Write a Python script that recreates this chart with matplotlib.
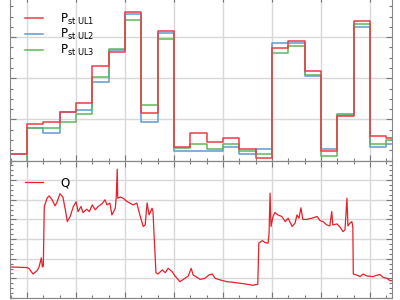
import matplotlib.pyplot as plt
from matplotlib.ticker import MultipleLocator, AutoMinorLocator, NullFormatter
import numpy as np

# step boundaries (one interval = 1/3 of a major grid unit)
step_edges = [k / 3 for k in range(-1, 23)] + [7.45]

p_ul1 = [0.17, 0.88, 0.93, 1.17, 1.39, 2.29, 2.63, 3.61, 1.15, 3.15, 0.32, 0.68,
         0.46, 0.54, 0.27, 0.07, 2.73, 2.90, 2.17, 0.22, 1.07, 3.39, 0.59, 0.54]
p_ul2 = [0.15, 0.78, 0.68, 1.17, 1.24, 1.90, 2.68, 3.56, 0.93, 3.10, 0.22, 0.22,
         0.22, 0.34, 0.17, 0.27, 2.85, 2.85, 2.05, 0.29, 1.12, 3.24, 0.34, 0.41]
p_ul3 = [-0.05, 0.78, 0.78, 0.93, 1.12, 2.02, 2.71, 3.41, 1.34, 2.95, 0.30, 0.41,
         0.29, 0.41, 0.24, 0.17, 2.61, 2.78, 2.07, 0.12, 1.10, 3.32, 0.39, 0.49]

q_t = [-0.35, 0.00, 0.04, 0.12, 0.20, 0.24, 0.29, 0.31, 0.33, 0.35, 0.41, 0.45,
       0.51, 0.57, 0.61, 0.67, 0.73, 0.78, 0.82, 0.88, 0.94, 1.00, 1.04, 1.10,
       1.14, 1.22, 1.27, 1.33, 1.39, 1.45, 1.53, 1.59, 1.63, 1.69, 1.73, 1.80,
       1.82, 1.84, 1.85, 1.90, 1.96, 2.04, 2.10, 2.16, 2.24, 2.31, 2.37, 2.41,
       2.45, 2.49, 2.55, 2.57, 2.59, 2.63, 2.67, 2.76, 2.82, 2.88, 2.96, 3.02,
       3.12, 3.22, 3.29, 3.35, 3.39, 3.47, 3.53, 3.63, 3.71, 3.78, 3.84, 3.94,
       4.08, 4.20, 4.35, 4.49, 4.61, 4.71, 4.73, 4.80, 4.86, 4.92, 4.94, 4.96,
       4.98, 5.02, 5.06, 5.12, 5.20, 5.27, 5.33, 5.41, 5.47, 5.51, 5.55, 5.59,
       5.63, 5.71, 5.84, 5.92, 5.98, 6.04, 6.12, 6.18, 6.22, 6.24, 6.33, 6.39,
       6.45, 6.49, 6.53, 6.55, 6.59, 6.63, 6.65, 6.66, 6.73, 6.80, 6.86, 6.94,
       7.06, 7.20, 7.27, 7.35, 7.41, 7.45]
q_val = [1.58, 1.55, 1.50, 1.22, 1.39, 1.55, 2.04, 1.58, 1.62, 4.66, 5.10, 5.20,
         5.00, 4.69, 4.88, 5.31, 5.14, 4.49, 3.89, 4.15, 4.64, 4.90, 4.40, 4.66,
         4.35, 4.52, 4.40, 4.74, 4.49, 4.66, 4.80, 5.00, 4.74, 4.83, 4.23, 4.57,
         5.16, 6.56, 5.08, 5.14, 5.08, 4.91, 4.83, 4.74, 4.83, 4.15, 3.64, 3.72,
         4.84, 4.23, 4.57, 4.40, 3.30, 1.29, 1.22, 1.43, 1.29, 1.51, 1.34, 1.12,
         0.83, 1.00, 1.12, 1.51, 1.17, 1.05, 0.95, 1.00, 1.17, 1.22, 1.00, 0.92,
         0.83, 0.80, 0.75, 0.70, 0.65, 0.70, 2.79, 2.92, 2.82, 2.79, 3.30, 5.34,
         3.64, 4.15, 4.35, 4.23, 4.15, 3.89, 4.06, 3.64, 3.81, 4.23, 4.06, 4.59,
         4.00, 4.00, 4.08, 4.15, 3.94, 3.89, 3.72, 3.67, 4.40, 3.72, 3.77, 3.60,
         3.38, 3.47, 5.08, 3.67, 3.81, 3.89, 3.64, 1.22, 1.17, 1.09, 1.22, 1.12,
         1.09, 1.20, 1.05, 1.00, 0.88, 0.88]

RED = "#ee3b45"
BLUE = "#5b9bd5"
GREEN = "#5cb85c"


def style_axis(ax, ymax):
    ax.set_xlim(-0.35, 7.45)
    ax.set_ylim(0, ymax)
    ax.xaxis.set_major_locator(MultipleLocator(1))
    ax.xaxis.set_minor_locator(AutoMinorLocator(3))
    ax.yaxis.set_major_locator(MultipleLocator(1))
    ax.yaxis.set_minor_locator(AutoMinorLocator(4))
    ax.xaxis.set_major_formatter(NullFormatter())
    ax.yaxis.set_major_formatter(NullFormatter())
    ax.tick_params(which="both", direction="in", top=True, right=True,
                   color="#777777", width=0.8)
    ax.tick_params(which="major", length=4)
    ax.tick_params(which="minor", length=2)
    ax.grid(True, which="major", color="#d8d8d8", linewidth=1.0)
    ax.set_axisbelow(True)
    for s in ax.spines.values():
        s.set_color("#888888")
        s.set_linewidth(0.8)


fig = plt.figure(figsize=(4, 3), dpi=100)
ax1 = fig.add_axes([0.025, 1 - 160.5 / 300, 0.955, 164.5 / 300])
ax2 = fig.add_axes([0.025, 1 - 298 / 300, 0.955, 137.5 / 300])

edges = np.array(step_edges)
for vals, c, lab in [(p_ul2, BLUE, r"P$_{\mathrm{st\ UL2}}$"),
                     (p_ul3, GREEN, r"P$_{\mathrm{st\ UL3}}$"),
                     (p_ul1, RED, r"P$_{\mathrm{st\ UL1}}$")]:
    v = list(vals) + [vals[-1]]
    ax1.step(edges, v, where="post", color=c, linewidth=1.1, label=lab)
style_axis(ax1, 4)
h, l = ax1.get_legend_handles_labels()
order = [2, 0, 1]
ax1.legend([h[i] for i in order], [l[i] for i in order], loc="upper left",
           frameon=False, fontsize=8.5, handlelength=1.55, handletextpad=1.45,
           borderaxespad=0, borderpad=0, bbox_to_anchor=(0.039, 0.905),
           labelspacing=0.05)

ax2.plot(q_t, q_val, color="#e8202a", linewidth=0.9, label="Q")
style_axis(ax2, 7)
ax2.legend(loc="upper left", frameon=False, fontsize=8.5, handlelength=1.55,
           handletextpad=1.45, borderaxespad=0, borderpad=0,
           bbox_to_anchor=(0.039, 0.885))

fig.savefig("out.png", dpi=100)
